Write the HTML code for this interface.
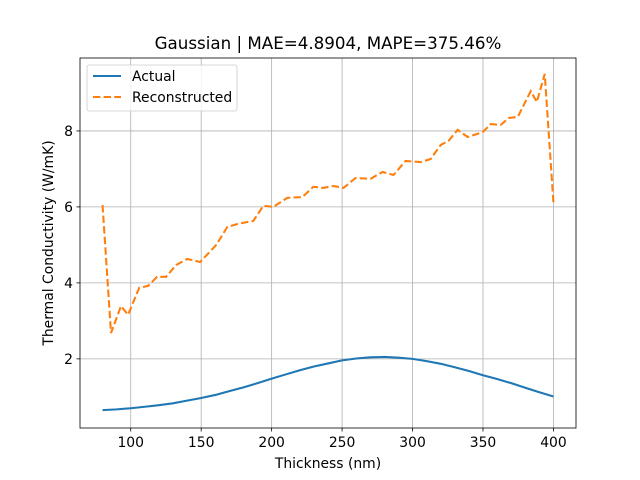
<!DOCTYPE html>
<html><head><meta charset="utf-8"><style>
body{margin:0;background:#fff}
svg{display:block;font-family:"DejaVu Sans","Liberation Sans",sans-serif}
</style></head><body>
<svg id="chart" width="640" height="480"></svg>
<script>
const actualX=[80,90,100,110,120,130,140,150,160,170,180,190,200,210,220,230,240,250,260,270,280,290,300,310,320,330,340,350,360,370,380,390,400];
const actualY=[0.65,0.67,0.70,0.74,0.78,0.83,0.90,0.97,1.05,1.15,1.25,1.36,1.48,1.59,1.70,1.80,1.88,1.96,2.01,2.04,2.05,2.03,2.00,1.94,1.87,1.78,1.68,1.57,1.47,1.36,1.24,1.12,1.01];
const reconX=[80,86,93.1,98.1,106,112.3,118.7,125.1,132.2,140.1,149.3,160.7,168.5,175.6,187,194.1,201.2,211.2,221.8,229.6,236.7,243.9,251,259.5,270.2,278.7,286.5,295,305.7,312.8,320,325.6,332,339.1,349.8,355.5,362.6,368.3,374.7,383.9,388.2,393.8,400];
const reconY=[6.05,2.68,3.39,3.16,3.87,3.92,4.16,4.16,4.47,4.63,4.55,5.0,5.47,5.55,5.63,6.03,6.0,6.24,6.26,6.53,6.5,6.55,6.5,6.76,6.74,6.92,6.84,7.21,7.18,7.26,7.63,7.74,8.03,7.84,7.97,8.18,8.16,8.34,8.37,9.05,8.76,9.5,6.1];
const xTicks=[100,150,200,250,300,350,400];
const yTicks=[2,4,6,8];
const L=80,R=576,T=58,B=428;
const xMin=64,xMax=416,yMin=0.18,yMax=9.92;
const sx=v=>L+(v-xMin)/(xMax-xMin)*(R-L);
const sy=v=>B-(v-yMin)/(yMax-yMin)*(B-T);
const svg=document.getElementById('chart');
const NS='http://www.w3.org/2000/svg';
function mk(tag,attrs,parent){const e=document.createElementNS(NS,tag);for(const k in attrs)e.setAttribute(k,attrs[k]);(parent||svg).appendChild(e);return e;}
xTicks.forEach(t=>{
 const g=mk('line',{x1:sx(t),x2:sx(t),y1:T,y2:B,stroke:'#b0b0b0','stroke-width':0.8});
 
 
 mk('line',{x1:sx(t),x2:sx(t),y1:B,y2:B+3.5,stroke:'#000','stroke-width':0.8});
 const tx=mk('text',{x:sx(t),y:B+19,'font-size':13.9,'text-anchor':'middle'});tx.textContent=t;
 
 
});
yTicks.forEach(t=>{
 const g=mk('line',{x1:L,x2:R,y1:sy(t),y2:sy(t),stroke:'#b0b0b0','stroke-width':0.8});
 
 
 mk('line',{x1:L-3.5,x2:L,y1:sy(t),y2:sy(t),stroke:'#000','stroke-width':0.8});
 const tx=mk('text',{x:L-7,y:sy(t)+5,'font-size':13.9,'text-anchor':'end'});tx.textContent=t;
 
 
});
const pa=actualX.map((x,i)=>sx(x)+','+sy(actualY[i])).join(' ');
const la=mk('polyline',{points:pa,fill:'none',stroke:'#1f77b4','stroke-width':2.08,'stroke-linejoin':'round'});


const pr=reconX.map((x,i)=>sx(x)+','+sy(reconY[i])).join(' ');
const lr=mk('polyline',{points:pr,fill:'none',stroke:'#ff7f0e','stroke-width':2.08,'stroke-dasharray':'7.4,3.2'});


const fr=mk('rect',{x:L,y:T,width:R-L,height:B-T,fill:'none',stroke:'#000','stroke-width':0.8});


</script>
<svg style="position:absolute;left:0;top:0" width="640" height="480">
<text x="328" y="49" font-size="16.7" text-anchor="middle" font-family="DejaVu Sans,Liberation Sans,sans-serif">Gaussian | MAE=4.8904, MAPE=375.46%</text>
<text x="328" y="468" font-size="13.9" text-anchor="middle" font-family="DejaVu Sans,Liberation Sans,sans-serif">Thickness (nm)</text>
<text transform="translate(53,243) rotate(-90)" font-size="13.9" text-anchor="middle" font-family="DejaVu Sans,Liberation Sans,sans-serif">Thermal Conductivity (W/mK)</text>
<g>
<rect x="87" y="65" width="150" height="46" rx="2" fill="#fff" fill-opacity="0.8" stroke="#ccc" stroke-width="0.8"/>
<line x1="93" x2="121" y1="76" y2="76" stroke="#1f77b4" stroke-width="2.08"/>
<text x="132" y="81" font-size="13.9" font-family="DejaVu Sans,Liberation Sans,sans-serif">Actual</text>
<line x1="93" x2="121" y1="97" y2="97" stroke="#ff7f0e" stroke-width="2.08" stroke-dasharray="7.4,3.2"/>
<text x="132" y="102" font-size="13.9" font-family="DejaVu Sans,Liberation Sans,sans-serif">Reconstructed</text>
</g>
</svg>
</body></html>
